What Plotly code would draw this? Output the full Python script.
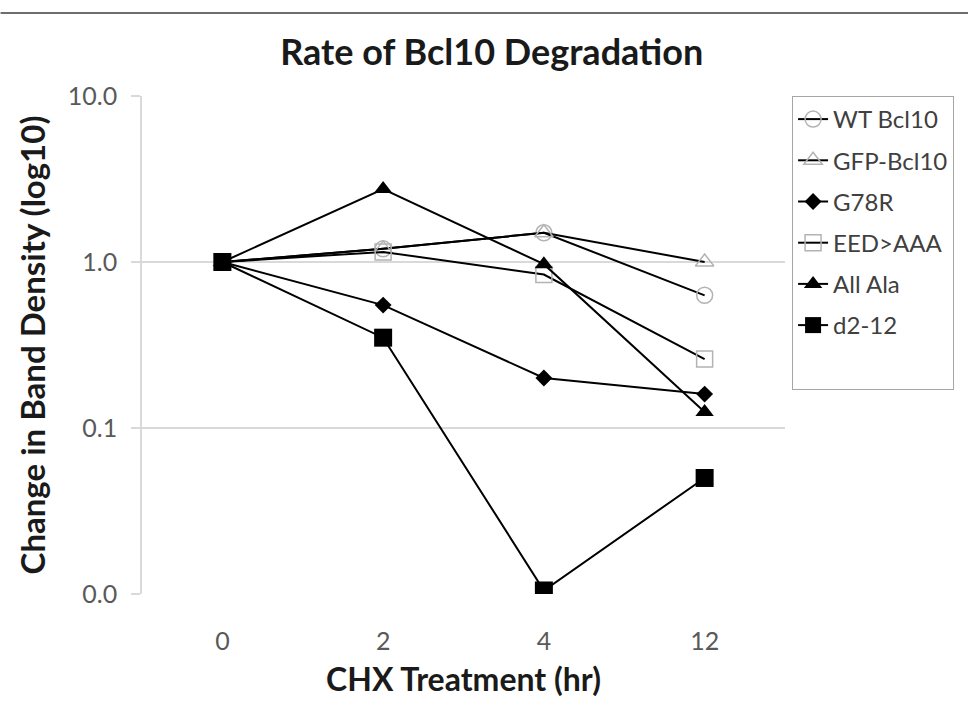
import plotly.graph_objects as go

categories = ["0", "2", "4", "12"]
wt_bcl10 = [1.0, 1.2, 1.5, 0.63]
gfp_bcl10 = [1.0, 1.2, 1.5, 1.0]
g78r = [1.0, 0.55, 0.2, 0.16]
eed_aaa = [1.0, 1.15, 0.84, 0.26]
all_ala = [1.0, 2.75, 0.97, 0.125]
d2_12 = [1.0, 0.35, 0.0105, 0.05]

FONT = "Lato"
fig = go.Figure()

series = [
    ("WT Bcl10", wt_bcl10, dict(symbol="circle-open", size=16, color="#b3b3b3", line=dict(width=1.5, color="#b3b3b3"))),
    ("GFP-Bcl10", gfp_bcl10, dict(symbol="triangle-up-open", size=16, color="#b3b3b3", line=dict(width=1.5, color="#b3b3b3"))),
    ("G78R", g78r, dict(symbol="diamond", size=13, color="black")),
    ("EED>AAA", eed_aaa, dict(symbol="square-open", size=16, color="#b3b3b3", line=dict(width=1.5, color="#b3b3b3"))),
    ("All Ala", all_ala, dict(symbol="triangle-up", size=16, color="black")),
    ("d2-12", d2_12, dict(symbol="square", size=18, color="black")),
]
for name, vals, mk in series:
    fig.add_trace(go.Scatter(
        x=categories, y=vals, name=name, mode="lines+markers",
        line=dict(color="black", width=2), marker=mk, legendgroup=name,
    ))

# blank legend row: Excel's legend box has extra room below the last entry
fig.add_trace(go.Scatter(
    x=[categories[0]], y=[1.0], name=" ", mode="lines",
    line=dict(color="rgba(0,0,0,0)", width=0), hoverinfo="skip", legendgroup="blank",
))

fig.update_layout(
    width=968, height=712,
    margin=dict(l=142, r=183, t=96, b=118),
    paper_bgcolor="white", plot_bgcolor="white",
    font=dict(family=FONT, color="#404040"),
    title=dict(text="<b>Rate of Bcl10 Degradation</b>", x=0.508, xanchor="center",
               y=1 - 52 / 712, yanchor="middle", font=dict(size=36, color="#1a1a1a", family=FONT)),
    showlegend=True,
    legend=dict(x=1.011, y=1.0, xanchor="left", yanchor="top",
                bordercolor="#a6a6a6", borderwidth=1,
                font=dict(size=24, color="#404040", family=FONT),
                tracegroupgap=7, itemwidth=30),
    shapes=[dict(type="line", xref="paper", yref="paper", x0=-0.22, x1=1.3,
                 y0=(712 - 13 - 118) / 498, y1=(712 - 13 - 118) / 498,
                 line=dict(color="#6e6e6e", width=2))],
)
fig.update_xaxes(
    type="category", range=[-0.5, 3.5], showgrid=False, showline=False,
    ticks="", tickfont=dict(size=25, color="#595959"), ticklabelstandoff=30,
    title=dict(text="<b>CHX Treatment (hr)</b>", font=dict(size=32, color="#1a1a1a"), standoff=14),
)
fig.update_yaxes(
    type="log", range=[-2, 1], tickvals=[0.01, 0.1, 1, 10],
    ticktext=["0.0", "0.1", "1.0", "10.0"],
    showgrid=True, gridcolor="#d9d9d9", gridwidth=1.5,
    showline=True, linecolor="#d9d9d9", linewidth=1.5,
    ticks="outside", ticklen=9, tickcolor="#d9d9d9", tickwidth=1.5,
    tickfont=dict(size=25, color="#595959"), ticklabelstandoff=9,
    zeroline=False,
    title=dict(text="<b>Change in Band Density (log10)</b>", font=dict(size=33, color="#1a1a1a"), standoff=12),
)

fig.write_html("out.html")
